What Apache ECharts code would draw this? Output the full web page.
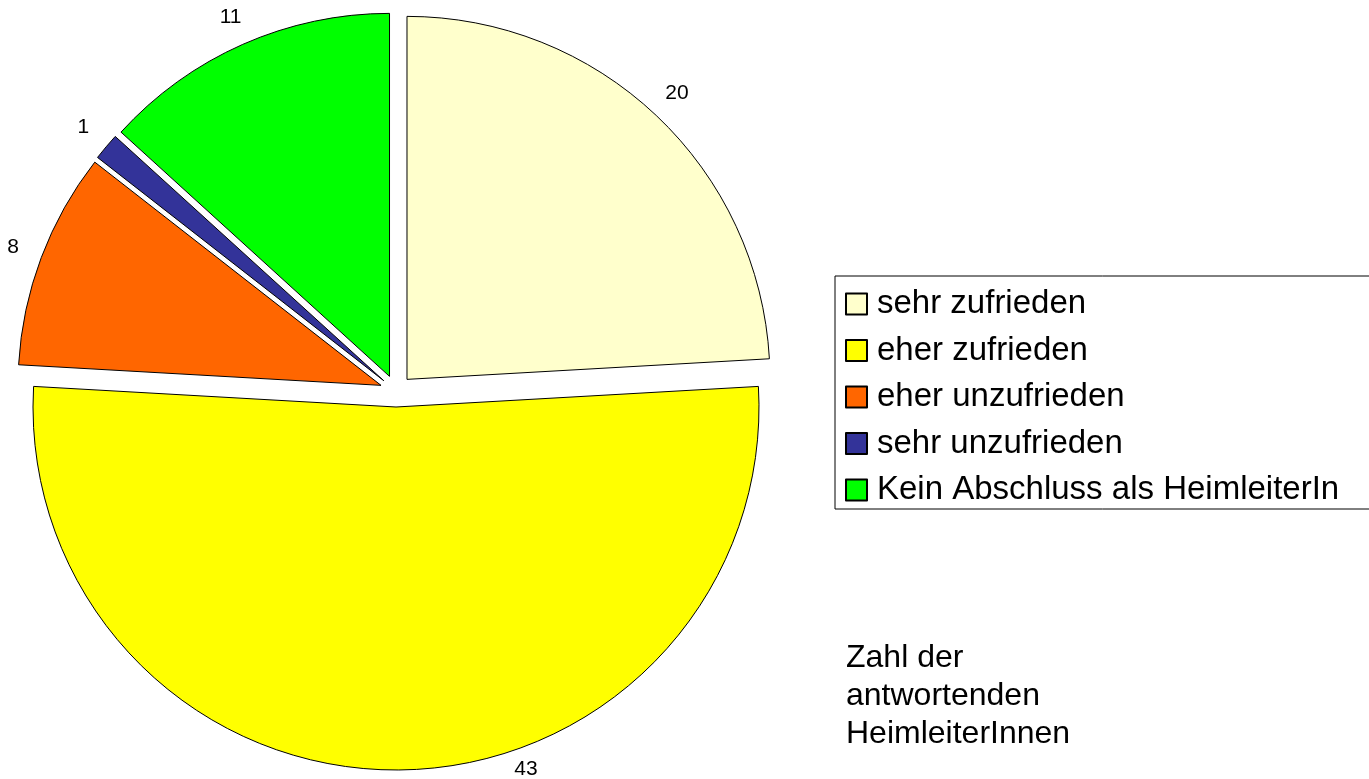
<!DOCTYPE html>
<html>
<head>
<meta charset="utf-8">
<script src="https://cdn.jsdelivr.net/npm/echarts@6/dist/echarts.min.js"></script>
<style>
  html, body { margin: 0; padding: 0; background: #fff; }
  #chart { width: 1369px; height: 779px; }
</style>
</head>
<body>
<div id="chart"></div>
<script>
// data
var categories = ["sehr zufrieden", "eher zufrieden", "eher unzufrieden", "sehr unzufrieden", "Kein Abschluss als HeimleiterIn"];
var counts = [20, 43, 8, 1, 11];
var colors = ["#FFFFCC", "#FFFF00", "#FF6600", "#333399", "#00FF00"];
var note = "Zahl der\nantwortenden\nHeimleiterInnen";

var font = "Liberation Sans, Arial, sans-serif";
var explode = 16;
var chart = echarts.init(document.getElementById("chart"));

var pieData = categories.map(function (name, i) {
  return {
    name: name,
    value: counts[i],
    selected: true,
    itemStyle: { color: colors[i] }
  };
});

var option = {
  backgroundColor: "#fff",
  animation: false,
  title: {
    text: note,
    left: 846,
    top: 639,
    padding: 0,
    textStyle: {
      fontFamily: font,
      fontSize: 32,
      lineHeight: 38,
      fontWeight: "normal",
      color: "#000"
    }
  },
  legend: {
    orient: "vertical",
    left: 835,
    top: 276,
    padding: [11.5, 40, 2.5, 10],
    itemWidth: 21,
    itemHeight: 21,
    itemGap: 13.5,
    icon: "rect",
    borderColor: "#000",
    borderWidth: 1,
    selectedMode: false,
    textStyle: {
      fontFamily: font,
      fontSize: 33,
      lineHeight: 33,
      color: "#000",
      padding: [0, 0, 0, 5]
    },
    data: categories
  },
  series: [{
    type: "pie",
    center: [396, 391],
    radius: 363,
    startAngle: 90,
    clockwise: true,
    selectedMode: "multiple",
    selectedOffset: explode,
    avoidLabelOverlap: false,
    itemStyle: { borderColor: "#000", borderWidth: 1 },
    select: { itemStyle: { borderColor: "#000", borderWidth: 1 } },
    emphasis: { disabled: true },
    label: {
      show: true,
      position: "outside",
      formatter: "{c}",
      fontFamily: font,
      fontSize: 21,
      color: "#000",
      distanceToLabelLine: 0
    },
    labelLine: { show: false, length: 30, length2: 0 },
    labelLayout: function (p) {
      var out = { align: "center" };
      // label of the big slice would leave the picture; pull it back in like the original
      // (label sits in the exploded slice's frame, hence the offset)
      var mid = p.labelRect.y + p.labelRect.height / 2;
      if (mid + explode > chart.getHeight() - 10) {
        out.dx = 130;
        out.dy = chart.getHeight() - 10 - explode - mid;
      }
      return out;
    },
    data: pieData
  }]
};

chart.setOption(option);
</script>
</body>
</html>
